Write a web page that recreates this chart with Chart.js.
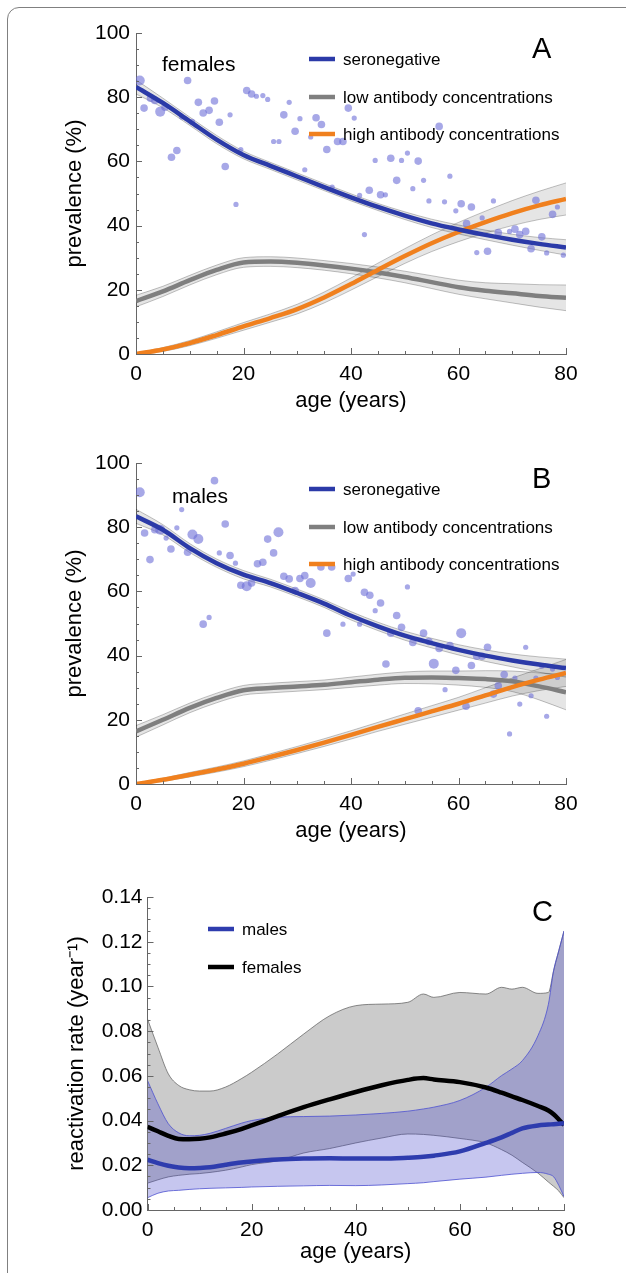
<!DOCTYPE html>
<html lang="en">
<head>
<meta charset="UTF-8">
<title>Seroprevalence and reactivation rate by age</title>
<script src="https://cdn.jsdelivr.net/npm/chart.js"></script>
<style>
  body { margin: 0; width: 626px; height: 1273px; overflow: hidden; background: #fff; }
  .card { position: absolute; left: 7px; top: 7px; width: 700px; height: 1400px; border: 1.5px solid #808080; border-radius: 12px; }
  .panel { position: absolute; left: 0; }
  #panelA { top: 0; }
  #panelB { top: 430px; }
  #panelC { top: 860px; }
</style>
</head>
<body>
<div class="card"></div>
<div class="panel" id="panelA"><canvas id="chartA" width="626" height="420"></canvas></div>
<div class="panel" id="panelB"><canvas id="chartB" width="626" height="420"></canvas></div>
<div class="panel" id="panelC"><canvas id="chartC" width="626" height="413"></canvas></div>
<script>
const FONT = '"Liberation Sans", Arial, sans-serif';

// ---- panels A and B: fitted curves (every 5 years) ----
const ages = [0, 5, 10, 15, 20, 25, 30, 35, 40, 45, 50, 55, 60, 65, 70, 75, 80];

const femSero   = [83.2, 78.2, 72.5, 66.8, 62.0, 58.6, 55.3, 52.0, 48.8, 45.8, 43.1, 40.7, 38.8, 37.1, 35.6, 34.3, 33.2];
const femSeroHw = [2.2, 1.5, 1.3, 1.3, 1.2, 1.1, 1.1, 1.1, 1.1, 1.1, 1.2, 1.3, 1.4, 1.5, 1.7, 2.0, 2.4];
const femLow    = [16.5, 19.5, 23.0, 26.2, 28.5, 28.8, 28.4, 27.6, 26.6, 25.4, 24.0, 22.4, 20.8, 19.7, 18.9, 18.1, 17.5];
const femLowHw  = [1.8, 1.6, 1.5, 1.5, 1.5, 1.5, 1.5, 1.5, 1.6, 1.7, 1.8, 2.0, 2.2, 2.5, 3.0, 3.5, 4.0];
const femHigh   = [0, 1.4, 3.4, 5.9, 8.6, 11.2, 14.0, 17.6, 21.8, 26.2, 30.5, 34.5, 38.0, 41.1, 43.9, 46.3, 48.3];
const femHighHw = [0.3, 0.6, 0.8, 1.0, 1.2, 1.3, 1.5, 1.7, 1.9, 2.1, 2.3, 2.6, 3.0, 3.4, 3.9, 4.4, 5.0];

const maleSero   = [83.4, 79.2, 73.5, 68.8, 65.2, 62.6, 59.5, 56.2, 52.4, 49.1, 46.2, 43.9, 41.8, 40.0, 38.5, 37.2, 36.1];
const maleSeroHw = [2.2, 1.6, 1.4, 1.3, 1.3, 1.2, 1.2, 1.2, 1.3, 1.3, 1.4, 1.5, 1.6, 1.8, 2.0, 2.4, 2.8];
const maleLow    = [16.4, 20.0, 23.7, 26.8, 29.2, 29.9, 30.4, 30.9, 31.7, 32.5, 33.1, 33.2, 33.0, 32.7, 32.0, 30.4, 28.6];
const maleLowHw  = [1.8, 1.6, 1.5, 1.5, 1.5, 1.5, 1.5, 1.5, 1.6, 1.7, 1.8, 2.0, 2.2, 2.6, 3.2, 4.2, 5.5];
const maleHigh   = [0, 1.3, 2.9, 4.5, 6.3, 8.4, 10.6, 12.9, 15.3, 17.8, 20.2, 22.6, 25.0, 27.6, 30.2, 32.5, 34.6];
const maleHighHw = [0.3, 0.5, 0.7, 0.8, 0.9, 1.0, 1.1, 1.2, 1.3, 1.4, 1.6, 1.8, 2.0, 2.4, 2.8, 3.4, 4.2];

// ---- observed seronegative fraction by age (size class 1-3 = sample size) ----
const femDotAge  = [0.7, 1.5, 2.7, 3.5, 4.5, 5.4, 6.6, 7.6, 8.5, 9.6, 10.5, 11.6, 12.5, 13.6, 14.6, 15.5, 16.6, 17.5, 18.6, 19.5,
  20.6, 21.5, 22.4, 23.6, 24.5, 25.6, 26.6, 27.5, 28.5, 29.6, 30.5, 31.4, 32.5, 33.5, 34.5, 35.5, 36.5, 37.5, 38.5, 39.5,
  40.6, 41.6, 42.5, 43.4, 44.5, 45.5, 46.4, 47.4, 48.5, 49.4, 50.5, 51.5, 52.5, 53.5, 54.5, 56.4, 57.4, 58.4, 59.5,
  60.5, 61.5, 62.4, 63.4, 64.4, 65.4, 66.5, 67.4, 69.5, 70.5, 71.4, 72.5, 73.5, 74.4, 75.5, 76.4, 77.5, 78.4, 79.5];
const femDotPrev = [85.2, 76.6, 79.7, 79.0, 75.5, 76.9, 61.3, 63.4, 73.8, 85.2, 72.5, 78.4, 75.1, 75.9, 78.8, 72.2, 58.4, 74.5, 46.6, 63.7,
  82.1, 81.0, 80.3, 80.5, 79.3, 66.2, 66.2, 74.5, 78.4, 69.4, 73.3, 57.4, 67.6, 73.6, 71.5, 63.7, 52.0, 66.2, 66.2, 76.6,
  73.5, 49.4, 37.2, 51.0, 60.3, 49.6, 49.6, 61.0, 54.1, 60.3, 62.6, 51.5, 60.1, 54.1, 47.7, 70.9, 47.4, 55.4, 44.6,
  46.8, 40.6, 45.8, 31.6, 42.4, 32.0, 47.7, 37.8, 38.2, 38.9, 37.2, 38.2, 32.8, 47.9, 36.5, 31.5, 43.5, 45.8, 30.8];
const femDotSize = [3, 2, 2, 2, 3, 2, 2, 2, 1, 2, 1, 2, 2, 2, 2, 2, 2, 1, 1, 1,
  2, 2, 1, 1, 1, 1, 1, 2, 1, 2, 1, 1, 1, 2, 2, 2, 1, 2, 2, 2,
  1, 1, 1, 2, 1, 2, 1, 2, 2, 1, 1, 1, 2, 1, 1, 2, 1, 1, 1,
  2, 2, 2, 1, 1, 2, 1, 2, 1, 2, 2, 2, 2, 2, 2, 1, 2, 1, 1];

const maleDotAge  = [0.7, 1.6, 2.6, 3.5, 4.5, 5.6, 6.5, 7.6, 8.5, 9.6, 10.5, 11.6, 12.5, 13.6, 14.6, 15.5, 16.6, 17.5, 18.5, 19.5,
  20.6, 21.5, 22.6, 23.6, 24.5, 25.6, 26.5, 27.5, 28.5, 29.6, 30.5, 31.4, 32.5, 34.4, 35.5, 36.4, 38.5, 39.5,
  40.4, 41.6, 42.5, 43.5, 44.5, 45.5, 46.5, 47.4, 48.5, 49.4, 50.5, 51.5, 52.5, 53.5, 54.5, 55.4, 56.4, 57.5, 58.4, 59.5,
  60.5, 61.4, 62.4, 63.4, 64.4, 65.4, 66.5, 67.4, 68.5, 69.5, 70.5, 71.4, 72.5, 73.5, 74.4, 75.5, 76.4, 77.5, 78.4];
const maleDotPrev = [90.9, 78.2, 69.9, 79.2, 79.2, 76.6, 73.2, 79.8, 85.5, 72.2, 77.7, 76.3, 49.8, 51.9, 94.5, 72.0, 81.0, 71.2, 68.8, 61.9,
  61.6, 62.6, 68.6, 69.1, 76.3, 72.0, 78.4, 64.7, 63.9, 60.3, 64.0, 64.9, 62.6, 67.6, 47.0, 67.6, 49.8, 64.0,
  65.4, 49.8, 59.7, 58.8, 54.0, 56.4, 37.4, 47.0, 52.5, 48.8, 61.4, 44.1, 22.8, 47.0, 44.4, 37.5, 42.2, 29.4, 43.1, 35.4,
  47.0, 24.2, 36.9, 39.8, 39.8, 42.6, 28.0, 30.6, 34.1, 15.6, 33.0, 24.9, 42.6, 27.5, 33.0, 36.7, 21.1, 35.8, 33.2];
const maleDotSize = [3, 2, 2, 2, 3, 1, 2, 1, 1, 2, 3, 3, 2, 1, 2, 1, 2, 2, 1, 2,
  3, 2, 2, 2, 2, 2, 3, 2, 2, 2, 2, 2, 3, 2, 2, 2, 1, 2,
  1, 1, 2, 2, 1, 2, 2, 2, 2, 2, 1, 2, 2, 2, 2, 3, 2, 1, 2, 2,
  3, 2, 2, 2, 2, 2, 2, 2, 2, 1, 1, 1, 1, 1, 1, 1, 1, 1, 1];

// ---- panel C: reactivation rate ----
const agesC    = [0, 2, 4, 6, 8, 10, 12, 15, 18, 20, 25, 30, 35, 40, 45, 50, 53, 55, 60, 65, 68, 70, 72, 75, 77, 78, 79, 80];
const femRate  = [0.0372, 0.0352, 0.0332, 0.0318, 0.0317, 0.0319, 0.0325, 0.0342, 0.0362, 0.0378, 0.0420, 0.0460, 0.0495, 0.0528,
  0.0558, 0.0582, 0.0590, 0.0584, 0.0572, 0.0548, 0.0525, 0.0508, 0.0492, 0.0465, 0.0445, 0.0428, 0.0405, 0.0380];
const femRateUp = [0.0854, 0.0728, 0.0609, 0.0557, 0.0538, 0.0532, 0.0532, 0.0550, 0.0587, 0.0616, 0.0698, 0.0787, 0.0869, 0.0914,
  0.0921, 0.0929, 0.0966, 0.0951, 0.0973, 0.0966, 0.0996, 0.0988, 0.0996, 0.0969, 0.0973, 0.1070, 0.1160, 0.1248];
const femRateLo = [0.0120, 0.0135, 0.0148, 0.0155, 0.0160, 0.0163, 0.0168, 0.0178, 0.0192, 0.0203, 0.0220, 0.0255, 0.0275, 0.0300,
  0.0322, 0.0340, 0.0338, 0.0334, 0.0320, 0.0300, 0.0270, 0.0245, 0.0213, 0.0165, 0.0125, 0.0106, 0.0085, 0.0055];
const maleRate  = [0.0225, 0.0210, 0.0198, 0.0190, 0.0187, 0.0188, 0.0191, 0.0202, 0.0212, 0.0217, 0.0226, 0.0230, 0.0231, 0.0230,
  0.0230, 0.0234, 0.0238, 0.0243, 0.0262, 0.0300, 0.0325, 0.0345, 0.0365, 0.0378, 0.0382, 0.0384, 0.0386, 0.0388];
const maleRateUp = [0.0579, 0.0475, 0.0386, 0.0345, 0.0332, 0.0334, 0.0343, 0.0365, 0.0388, 0.0400, 0.0415, 0.0418, 0.0420, 0.0425,
  0.0432, 0.0442, 0.0452, 0.0460, 0.0490, 0.0549, 0.0601, 0.0631, 0.0668, 0.0780, 0.0920, 0.1070, 0.1160, 0.1248];
const maleRateLo = [0.0055, 0.0075, 0.0085, 0.0088, 0.0092, 0.0095, 0.0097, 0.0099, 0.0101, 0.0103, 0.0106, 0.0108, 0.0110, 0.0109,
  0.0112, 0.0118, 0.0122, 0.0127, 0.0138, 0.0147, 0.0155, 0.0160, 0.0164, 0.0168, 0.0160, 0.0149, 0.0110, 0.0060];

const BLUE = '#2b3aa8';
const GRAY = '#7f7f7f';
const ORANGE = '#f0801e';
const DOT = 'rgba(108,110,215,0.6)';
const dotRadius = [0, 2.6, 3.8, 5.0];

function pts(xs, ys) {
  return xs.map((x, i) => ({ x: x, y: ys[i] }));
}
function shifted(ys, hw, sign) {
  return ys.map((y, i) => y + sign * hw[i]);
}

// ticks pointing into the plot, majors longer than minors
const inwardTicks = {
  id: 'inwardTicks',
  afterDatasetsDraw(chart, args, o) {
    const { ctx, chartArea, scales: { x, y } } = chart;
    ctx.save();
    ctx.strokeStyle = '#666';
    ctx.lineWidth = 1;
    const n = Math.round((x.max - x.min) / o.xMinor);
    for (let i = 0; i <= n; i++) {
      const v = x.min + i * o.xMinor;
      const px = Math.round(x.getPixelForValue(v)) + 0.5;
      const len = (i % o.xEvery === 0) ? 6 : 3;
      ctx.beginPath();
      ctx.moveTo(px, chartArea.bottom);
      ctx.lineTo(px, chartArea.bottom - len);
      ctx.stroke();
    }
    const m = Math.round((y.max - y.min) / o.yMinor);
    for (let i = 0; i <= m; i++) {
      const v = y.min + i * o.yMinor;
      const py = Math.round(y.getPixelForValue(v)) + 0.5;
      const len = (i % o.yEvery === 0) ? 6 : 3;
      ctx.beginPath();
      ctx.moveTo(chartArea.left, py);
      ctx.lineTo(chartArea.left + len, py);
      ctx.stroke();
    }
    ctx.restore();
  }
};

// panel letter, caption and the hand placed key
const notes = {
  id: 'notes',
  afterDraw(chart, args, o) {
    const { ctx, chartArea } = chart;
    ctx.save();
    ctx.fillStyle = '#000';
    ctx.textBaseline = 'middle';
    ctx.textAlign = 'left';
    o.texts.forEach(t => {
      ctx.font = t.size + 'px ' + FONT;
      ctx.fillText(t.text, t.x, chartArea.top + t.dy);
    });
    ctx.font = '17px ' + FONT;
    o.keys.forEach(k => {
      const yy = chartArea.top + k.dy;
      ctx.strokeStyle = k.color;
      ctx.lineWidth = 4.5;
      ctx.beginPath();
      ctx.moveTo(k.x, yy);
      ctx.lineTo(k.x + 26, yy);
      ctx.stroke();
      ctx.fillText(k.text, k.x + 34, yy + 1);
    });
    ctx.restore();
  }
};

function band(xs, lo, hi, fill, edge, edgeWidth, order) {
  return [
    { data: pts(xs, hi), borderColor: edge, borderWidth: edgeWidth, pointRadius: 0, fill: false,
      cubicInterpolationMode: 'monotone', order: order },
    { data: pts(xs, lo), borderColor: edge, borderWidth: edgeWidth, pointRadius: 0, fill: '-1',
      backgroundColor: fill, cubicInterpolationMode: 'monotone', order: order }
  ];
}

function curve(xs, ys, color, order) {
  return { data: pts(xs, ys), borderColor: color, borderWidth: 4.5, pointRadius: 0, fill: false,
    cubicInterpolationMode: 'monotone', order: order };
}

function axisX(height, labelPad, titlePad) {
  return {
    type: 'linear', min: 0, max: 80,
    afterFit: s => { s.height = height; },
    grid: { display: false, drawTicks: false },
    border: { display: true, color: '#666', width: 1 },
    ticks: { stepSize: 20, padding: labelPad, color: '#000', autoSkip: false, maxRotation: 0, font: { size: 21, family: FONT } },
    title: { display: true, text: 'age (years)', color: '#000', font: { size: 22, family: FONT }, padding: { top: 0, bottom: titlePad } }
  };
}

function prevalenceChart(id, sero, seroHw, low, lowHw, high, highHw, dAge, dPrev, dSize, caption, captionX, captionDy, letter) {
  const bandFill = 'rgba(0,0,0,0.1)';
  const bandEdge = 'rgba(0,0,0,0.3)';
  const datasets = [].concat(
    band(ages, shifted(sero, seroHw, -1), shifted(sero, seroHw, 1), bandFill, bandEdge, 0.8, 6),
    band(ages, shifted(low, lowHw, -1), shifted(low, lowHw, 1), bandFill, bandEdge, 0.8, 6),
    band(ages, shifted(high, highHw, -1), shifted(high, highHw, 1), bandFill, bandEdge, 0.8, 6),
    [{ data: pts(dAge, dPrev), showLine: false, pointRadius: dSize.map(s => dotRadius[s]), pointBorderWidth: 0,
       pointBackgroundColor: DOT, order: 4 }],
    [curve(ages, low, GRAY, 2), curve(ages, high, ORANGE, 1), curve(ages, sero, BLUE, 0)]
  );
  return new Chart(document.getElementById(id), {
    type: 'line',
    data: { datasets: datasets },
    options: {
      responsive: false,
      animation: false,
      layout: { padding: { top: 33, right: 60, left: 0, bottom: 0 } },
      plugins: {
        legend: { display: false },
        tooltip: { enabled: false },
        inwardTicks: { xMinor: 5, xEvery: 4, yMinor: 5, yEvery: 4 },
        notes: {
          texts: [
            { text: caption, x: captionX, dy: captionDy, size: 21 },
            { text: letter, x: 532, dy: 17, size: 29 }
          ],
          keys: [
            { text: 'seronegative', color: BLUE, x: 309, dy: 26 },
            { text: 'low antibody concentrations', color: GRAY, x: 309, dy: 64 },
            { text: 'high antibody concentrations', color: ORANGE, x: 309, dy: 101 }
          ]
        }
      },
      scales: {
        x: axisX(66, 8, 6),
        y: {
          min: 0, max: 100,
          afterFit: s => { s.width = 136; },
          grid: { display: false, drawTicks: false },
          border: { display: true, color: '#666', width: 1 },
          ticks: { stepSize: 20, padding: 6, color: '#000', font: { size: 21, family: FONT } },
          title: { display: true, text: 'prevalence (%)', color: '#000', font: { size: 22, family: FONT }, padding: { top: 62, bottom: 0 } }
        }
      }
    },
    plugins: [inwardTicks, notes]
  });
}

prevalenceChart('chartA', femSero, femSeroHw, femLow, femLowHw, femHigh, femHighHw,
  femDotAge, femDotPrev, femDotSize, 'females', 162, 32, 'A');
prevalenceChart('chartB', maleSero, maleSeroHw, maleLow, maleLowHw, maleHigh, maleHighHw,
  maleDotAge, maleDotPrev, maleDotSize, 'males', 172, 34, 'B');

// panel C
new Chart(document.getElementById('chartC'), {
  type: 'line',
  data: {
    datasets: [].concat(
      band(agesC, femRateLo, femRateUp, '#cbcbcb', '#5a5a5a', 0.7, 6),
      band(agesC, maleRateLo, maleRateUp, 'rgba(65,65,202,0.3)', '#4d50d0', 0.8, 5),
      [curve(agesC, femRate, '#000', 1), curve(agesC, maleRate, '#2e3cae', 0)]
    )
  },
  options: {
    responsive: false,
    animation: false,
    layout: { padding: { top: 37, right: 62, left: 0, bottom: 0 } },
    plugins: {
      legend: { display: false },
      tooltip: { enabled: false },
      inwardTicks: { xMinor: 5, xEvery: 4, yMinor: 0.005, yEvery: 4 },
      notes: {
        texts: [{ text: 'C', x: 532, dy: 16, size: 29 }],
        keys: [
          { text: 'males', color: '#2e3cae', x: 208, dy: 32 },
          { text: 'females', color: '#000', x: 208, dy: 70 }
        ]
      }
    },
    scales: {
      x: axisX(63, 8, 8),
      y: {
        min: 0, max: 0.14,
        afterFit: s => { s.width = 147.5; },
        grid: { display: false, drawTicks: false },
        border: { display: true, color: '#666', width: 1 },
        ticks: { stepSize: 0.02, padding: 5, color: '#000', font: { size: 21, family: FONT },
          callback: v => v.toFixed(2) },
        title: { display: true, text: 'reactivation rate (year\u207B\u00B9)', color: '#000',
          font: { size: 22, family: FONT }, padding: { top: 64, bottom: 0 } }
      }
    }
  },
  plugins: [inwardTicks, notes]
});
</script>
</body>
</html>
